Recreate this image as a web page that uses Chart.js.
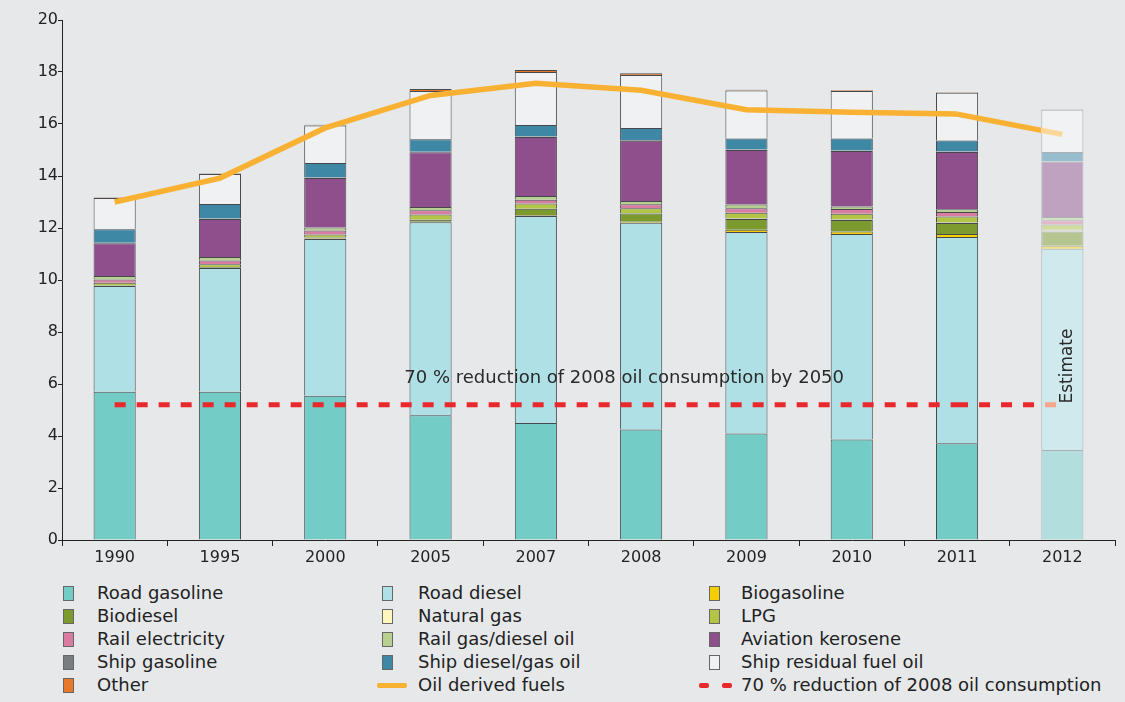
<!DOCTYPE html>
<html>
<head>
<meta charset="utf-8">
<script src="https://cdn.jsdelivr.net/npm/chart.js@4/dist/chart.umd.min.js"></script>
<style>
  body { margin: 0; background: #e6e8ea; font-family: "DejaVu Sans", Verdana, sans-serif; }
  #wrap { position: relative; width: 1125px; height: 702px; }
  #legend { position: absolute; left: 0; top: 580px; width: 1125px; height: 122px; }
  .item { position: absolute; font-size: 18px; color: #222; line-height: 20px; white-space: nowrap; }
  .sw { position: absolute; width: 11px; height: 15px; box-sizing: border-box; border: 1px solid #666; }
</style>
</head>
<body>
<div id="wrap">
  <canvas id="chart" width="1125" height="575"></canvas>
  <div id="legend"></div>
</div>
<script>
const years = ['1990', '1995', '2000', '2005', '2007', '2008', '2009', '2010', '2011', '2012'];

// Mtoe by fuel, bottom to top of each stack
const roadGasoline   = [5.70, 5.70, 5.55, 4.80, 4.50, 4.25, 4.10, 3.87, 3.72, 3.46];
const roadDiesel     = [4.07, 4.76, 6.03, 7.42, 7.96, 7.95, 7.75, 7.90, 7.93, 7.74];
const bioGasoline    = [0.00, 0.00, 0.02, 0.02, 0.03, 0.04, 0.08, 0.10, 0.12, 0.12];
const bioDiesel      = [0.02, 0.03, 0.03, 0.08, 0.25, 0.32, 0.42, 0.44, 0.42, 0.55];
const naturalGas     = [0.00, 0.00, 0.00, 0.00, 0.00, 0.00, 0.02, 0.02, 0.02, 0.06];
const lpg            = [0.10, 0.12, 0.12, 0.20, 0.20, 0.20, 0.22, 0.22, 0.23, 0.20];
const railElectric   = [0.13, 0.14, 0.15, 0.16, 0.15, 0.15, 0.17, 0.18, 0.18, 0.17];
const railGasDiesel  = [0.13, 0.13, 0.12, 0.13, 0.14, 0.13, 0.14, 0.10, 0.10, 0.12];
const aviation       = [1.26, 1.47, 1.90, 2.10, 2.27, 2.32, 2.10, 2.13, 2.20, 2.13];
const shipGasoline   = [0.02, 0.02, 0.02, 0.02, 0.02, 0.02, 0.02, 0.02, 0.02, 0.02];
const shipDiesel     = [0.52, 0.55, 0.56, 0.48, 0.44, 0.47, 0.42, 0.46, 0.43, 0.35];
const shipResidual   = [1.20, 1.16, 1.44, 1.86, 2.04, 2.03, 1.85, 1.83, 1.83, 1.63];
const other          = [0.02, 0.02, 0.03, 0.08, 0.08, 0.07, 0.03, 0.03, 0.02, 0.02];

const oilDerived     = [13.00, 13.92, 15.85, 17.10, 17.57, 17.30, 16.55, 16.45, 16.38, 15.60];
const reductionLevel = [5.2, 5.2, 5.2, 5.2, 5.2, 5.2, 5.2, 5.2, 5.2, 5.2];

const targetNote = '70 % reduction of 2008 oil consumption by 2050';

const fuels = [
  { label: 'Road gasoline', data: roadGasoline, color: '#74ccc7' },
  { label: 'Road diesel', data: roadDiesel, color: '#aee0e5' },
  { label: 'Biogasoline', data: bioGasoline, color: '#f6cf00' },
  { label: 'Biodiesel', data: bioDiesel, color: '#7d9a2e' },
  { label: 'Natural gas', data: naturalGas, color: '#fff6bd' },
  { label: 'LPG', data: lpg, color: '#b3c547' },
  { label: 'Rail electricity', data: railElectric, color: '#d97ca2' },
  { label: 'Rail gas/diesel oil', data: railGasDiesel, color: '#b8cf8f' },
  { label: 'Aviation kerosene', data: aviation, color: '#8e4f8c' },
  { label: 'Ship gasoline', data: shipGasoline, color: '#7a7d80' },
  { label: 'Ship diesel/gas oil', data: shipDiesel, color: '#3e88a5' },
  { label: 'Ship residual fuel oil', data: shipResidual, color: '#f0f1f2' },
  { label: 'Other', data: other, color: '#e8792a' }
];

// 2012 is an estimate: lighter colours
function fade(hex) {
  const n = parseInt(hex.slice(1), 16);
  const r = Math.round(((n >> 16) & 255) * 0.5 + 120);
  const g = Math.round(((n >> 8) & 255) * 0.5 + 121);
  const b = Math.round((n & 255) * 0.5 + 122);
  return `rgb(${r},${g},${b})`;
}

// line segment running into the estimate bar turns pale at the bar edge
function fadeSegment(c, strong, pale) {
  if (c.p1DataIndex !== years.length - 1) return undefined;
  const chart = c.chart;
  const bar = chart.getDatasetMeta(0).data[years.length - 1];
  const edge = bar.x - bar.width / 2;
  const x0 = c.p0.x, x1 = c.p1.x;
  const f = Math.min(1, Math.max(0, (edge - x0) / (x1 - x0)));
  const grad = chart.ctx.createLinearGradient(x0, 0, x1, 0);
  grad.addColorStop(0, strong);
  grad.addColorStop(f, strong);
  grad.addColorStop(Math.min(1, f + 0.001), pale);
  grad.addColorStop(1, pale);
  return grad;
}

const barSets = fuels.map(f => ({
  type: 'bar',
  label: f.label,
  data: f.data,
  backgroundColor: years.map((y, i) => i === years.length - 1 ? fade(f.color) : f.color),
  borderColor: years.map((y, i) => i === years.length - 1 ? '#aab0b4' : '#45494c'),
  borderWidth: 1,
  stack: 'fuel',
  order: 2,
  categoryPercentage: 1,
  barPercentage: 0.4
}));

const lineSets = [
  {
    type: 'line',
    label: 'Oil derived fuels',
    data: oilDerived,
    stack: 'oil',
    borderColor: '#f8b133',
    borderWidth: 5.5,
    pointRadius: 0,
    tension: 0,
    order: 1,
    segment: { borderColor: c => fadeSegment(c, '#f8b133', '#fbd69a') }
  },
  {
    type: 'line',
    label: '70 % reduction of 2008 oil consumption',
    data: reductionLevel,
    stack: 'target',
    borderColor: '#e8282b',
    borderWidth: 5,
    borderDash: [11, 11],
    pointRadius: 0,
    order: 0,
    segment: { borderColor: c => fadeSegment(c, '#e8282b', '#f4a58a') }
  }
];

const notesPlugin = {
  id: 'notes',
  afterDatasetsDraw(chart) {
    const { ctx, scales: { x, y } } = chart;
    ctx.save();
    ctx.font = '18px "DejaVu Sans"';
    ctx.fillStyle = '#2a2a2a';
    ctx.textAlign = 'center';
    ctx.textBaseline = 'middle';
    ctx.fillText(targetNote, x.getPixelForValue(5) - 17, y.getPixelForValue(6.23));

    ctx.font = '17px "DejaVu Sans"';
    ctx.translate(x.getPixelForValue(9) + 5, y.getPixelForValue(6.69));
    ctx.rotate(-Math.PI / 2);
    ctx.fillText('Estimate', 0, 0);
    ctx.restore();
  }
};

const chart = new Chart(document.getElementById('chart').getContext('2d'), {
  data: {
    labels: years,
    datasets: [...barSets, ...lineSets]
  },
  options: {
    responsive: false,
    animation: false,
    layout: { padding: { top: 20, right: 10, left: 0, bottom: 0 } },
    plugins: {
      legend: { display: false },
      tooltip: { enabled: false }
    },
    scales: {
      x: {
        stacked: true,
        offset: true,
        afterFit: s => { s.height = 35; },
        grid: { display: true, offset: true, drawOnChartArea: false, tickLength: 6, color: '#222' },
        border: { display: true, color: '#222', width: 1 },
        ticks: { color: '#222', font: { family: 'DejaVu Sans', size: 16 }, padding: 2 }
      },
      y: {
        stacked: true,
        min: 0,
        max: 20,
        afterFit: s => { s.width = 62; },
        grid: { display: true, drawOnChartArea: false, tickLength: 4, color: '#222' },
        border: { display: true, color: '#222', width: 1 },
        ticks: { stepSize: 2, color: '#222', font: { family: 'DejaVu Sans', size: 16 }, padding: 0 }
      }
    }
  },
  plugins: [notesPlugin]
});

// legend in three columns, built from the chart's datasets
function buildLegend() {
  const box = document.getElementById('legend');
  const colX = [[63, 97], [382, 418], [709, 741]];
  const rowY = [13, 36, 59, 82, 105];
  const entries = chart.data.datasets;
  const order = [...entries.slice(0, fuels.length), entries[fuels.length], entries[fuels.length + 1]];
  order.forEach((ds, k) => {
    const col = k % 3, row = Math.floor(k / 3);
    const [sx, tx] = colX[col];
    const cy = rowY[row];
    let mark;
    if (ds.type === 'bar') {
      const fuel = fuels[k];
      mark = `<div class="sw" style="left:${sx}px;top:${cy - 7}px;background:${fuel.color}"></div>`;
    } else if (ds.borderDash) {
      mark = `<div style="position:absolute;left:${sx - 10}px;top:${cy - 2}px;width:10px;height:5px;background:${ds.borderColor};border-radius:2px"></div>` +
             `<div style="position:absolute;left:${sx + 13}px;top:${cy - 2}px;width:10px;height:5px;background:${ds.borderColor};border-radius:2px"></div>`;
    } else {
      mark = `<div style="position:absolute;left:${sx - 5}px;top:${cy - 2}px;width:30px;height:5px;background:${ds.borderColor};border-radius:2px"></div>`;
    }
    box.insertAdjacentHTML('beforeend', mark +
      `<div class="item" style="left:${tx}px;top:${cy - 10}px">${ds.label}</div>`);
  });
}
buildLegend();
</script>
</body>
</html>
